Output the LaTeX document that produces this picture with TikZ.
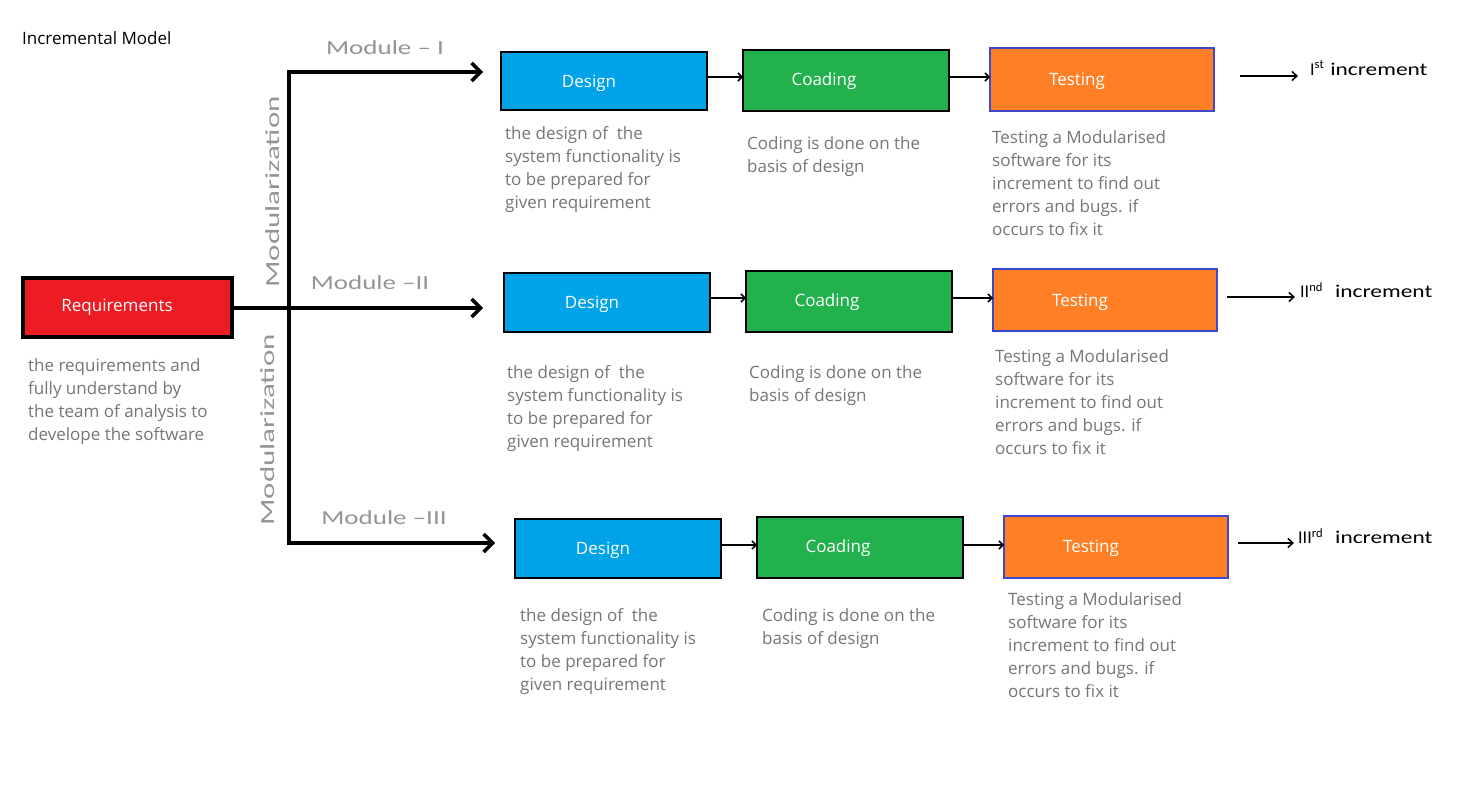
\documentclass[tikz,border=0pt]{standalone}
\usepackage{fontspec}
\setmainfont{Open Sans}
\setsansfont{Carlito}
\usetikzlibrary{arrows.meta}
\definecolor{reqred}{HTML}{ED1C24}
\definecolor{desblue}{HTML}{00A2E8}
\definecolor{codgreen}{HTML}{22B14C}
\definecolor{tstorange}{HTML}{FF7F27}
\definecolor{tstborder}{HTML}{3F48CC}
\definecolor{desctext}{HTML}{767676}
\definecolor{handgray}{HTML}{959595}
\tikzset{
  boxlabel/.style={text=white,font=\fontsize{17}{19}\selectfont,inner sep=0pt},
  desc/.style={text=desctext,font=\fontsize{17}{23}\selectfont,align=left,anchor=north west,inner sep=0pt},
  hand/.style={text=handgray,font=\fontsize{20}{22}\sffamily,inner sep=0pt},
  incr/.style={text=black,font=\fontsize{18}{20}\sffamily,inner sep=0pt,anchor=west},
  bigarrow/.style={line width=3.5pt,-{Straight Barb[length=9pt,width=18pt,line width=3.5pt]}},
  smallarrow/.style={line width=2pt,-{Straight Barb[length=4pt,width=8pt,line width=1.5pt]}},
  incarrow/.style={line width=1.5pt,-{Straight Barb[length=5pt,width=9pt,line width=1.5pt]}},
}
\begin{document}
\begin{tikzpicture}[x=1pt,y=-1pt]
\useasboundingbox[fill=white] (0,0) rectangle (1484,800);

\node[anchor=west,inner sep=0pt,font=\fontsize{17}{18}\selectfont] (title) at (22,38) {Incremental Model};

% Requirements
\draw[fill=reqred,line width=4pt] (23,278) rectangle (232,337);
\coordinate (reqE) at (232,308);
\node[boxlabel] (req) at (117,307) {Requirements};
\node[desc] (reqd) at (28,358) {the requirements and\\fully understand by\\the team of analysis to\\develope the software};

% trunk
\coordinate (j) at (289,308);
\coordinate (t1) at (289,72);
\coordinate (t3) at (289,543);
\coordinate (a1) at (483,72);
\coordinate (a2) at (483,308);
\coordinate (a3) at (495,543);
\draw[line width=3.5pt] (reqE) -- (j);
\draw[line width=3.5pt,line cap=rect] (t1) -- (t3);
\draw[bigarrow] (t1) -- (a1);
\draw[bigarrow] (j) -- (a2);
\draw[bigarrow] (t3) -- (a3);

\node[hand] (m1) at (385,48) {\scalebox{1.35}[1]{Module -- I}};
\node[hand] (m2) at (370,283) {\scalebox{1.35}[1]{Module --II}};
\node[hand] (m3) at (384,518) {\scalebox{1.35}[1]{Module --III}};
\node[hand,rotate=90] (v1) at (273,192) {\scalebox{1.55}[1]{Modularization}};
\node[hand,rotate=90] (v2) at (268,430) {\scalebox{1.55}[1]{Modularization}};

% Row 1
\draw[fill=desblue,line width=2.5pt] (501,52) rectangle (707,110);
\draw[fill=codgreen,line width=2.5pt] (743,50) rectangle (949,111);
\draw[fill=tstorange,draw=tstborder,line width=2.5pt] (990,48) rectangle (1214,111);
\node[boxlabel] (d1) at (589,83) {Design};
\node[boxlabel] (c1) at (824,81) {Coading};
\node[boxlabel] (s1) at (1077,81) {Testing};
\coordinate (d1E) at (707,77); \coordinate (c1W) at (743,77);
\coordinate (c1E) at (949,77); \coordinate (s1W) at (990,77);
\draw[smallarrow] (d1E) -- (c1W);
\draw[smallarrow] (c1E) -- (s1W);
\node[desc] (dd1) at (505,126) {the design of\ \ the\\system functionality is\\to be prepared for\\given requirement};
\node[desc] (cd1) at (747,136) {Coding is done on the\\basis of design};
\node[desc] (sd1) at (992,130) {Testing a Modularised\\software for its\\increment to find out\\errors and bugs. if\\occurs to fix it};
\coordinate (i1s) at (1240,76);
\coordinate (i1e) at (1298,76);
\node[incr] (i1) at (1310,68) {I\textsuperscript{st}\hspace{6pt}\scalebox{1.3}[1]{increment}};
\draw[incarrow] (i1s) -- (i1e);

% Row 2
\draw[fill=desblue,line width=2.5pt] (504,273) rectangle (710,332);
\draw[fill=codgreen,line width=2.5pt] (746,271) rectangle (952,332);
\draw[fill=tstorange,draw=tstborder,line width=2.5pt] (993,269) rectangle (1217,331);
\node[boxlabel] (d2) at (592,304) {Design};
\node[boxlabel] (c2) at (827,302) {Coading};
\node[boxlabel] (s2) at (1080,302) {Testing};
\coordinate (d2E) at (710,298); \coordinate (c2W) at (746,298);
\coordinate (c2E) at (952,298); \coordinate (s2W) at (993,298);
\draw[smallarrow] (d2E) -- (c2W);
\draw[smallarrow] (c2E) -- (s2W);
\node[desc] (dd2) at (507,365) {the design of\ \ the\\system functionality is\\to be prepared for\\given requirement};
\node[desc] (cd2) at (749,365) {Coding is done on the\\basis of design};
\node[desc] (sd2) at (995,349) {Testing a Modularised\\software for its\\increment to find out\\errors and bugs. if\\occurs to fix it};
\coordinate (i2s) at (1227,297);
\coordinate (i2e) at (1295,297);
\node[incr] (i2) at (1300,290) {II\textsuperscript{nd}\hspace{12pt}\scalebox{1.3}[1]{increment}};
\draw[incarrow] (i2s) -- (i2e);

% Row 3
\draw[fill=desblue,line width=2.5pt] (515,519) rectangle (721,578);
\draw[fill=codgreen,line width=2.5pt] (757,517) rectangle (963,578);
\draw[fill=tstorange,draw=tstborder,line width=2.5pt] (1004,516) rectangle (1228,578);
\node[boxlabel] (d3) at (603,550) {Design};
\node[boxlabel] (c3) at (838,548) {Coading};
\node[boxlabel] (s3) at (1091,548) {Testing};
\coordinate (d3E) at (721,545); \coordinate (c3W) at (757,545);
\coordinate (c3E) at (963,545); \coordinate (s3W) at (1004,545);
\draw[smallarrow] (d3E) -- (c3W);
\draw[smallarrow] (c3E) -- (s3W);
\node[desc] (dd3) at (520,608) {the design of\ \ the\\system functionality is\\to be prepared for\\given requirement};
\node[desc] (cd3) at (762,608) {Coding is done on the\\basis of design};
\node[desc] (sd3) at (1008,592) {Testing a Modularised\\software for its\\increment to find out\\errors and bugs. if\\occurs to fix it};
\coordinate (i3s) at (1238,543);
\coordinate (i3e) at (1294,543);
\node[incr] (i3) at (1298,536) {III\textsuperscript{rd}\hspace{12pt}\scalebox{1.3}[1]{increment}};
\draw[incarrow] (i3s) -- (i3e);
\end{tikzpicture}
\end{document}
